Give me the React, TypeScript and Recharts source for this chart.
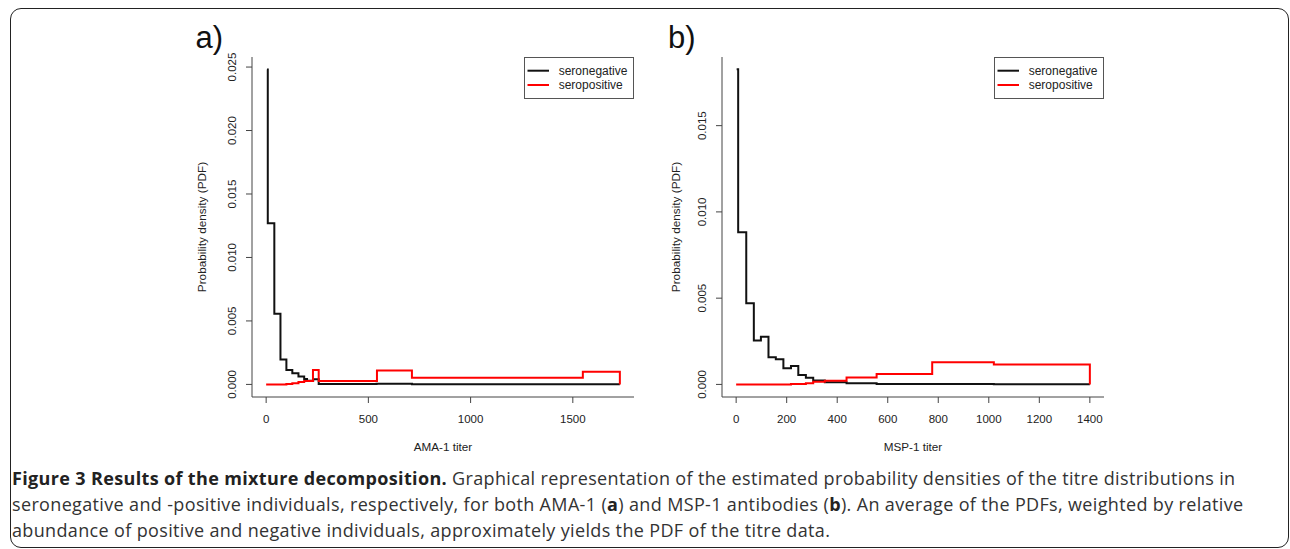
import React from 'react';
import { LineChart, Line, XAxis, YAxis, Legend } from 'recharts';

// ---------- Data ----------
// Panel a) AMA-1
const amaNegX = [4, 8, 40, 70, 99, 128, 158, 186, 200, 230, 257, 540, 713, 1549, 1730];
const amaNegY = [0.0248, 0.0127, 0.00557, 0.00197, 0.00113, 0.00087, 0.00062, 0.00042, 0.00028, 0.0004, 0.00003, 0.00005, 0.00001, 0.000005, 0.000005];
const amaPosX = [0, 99, 128, 158, 186, 229, 257, 542, 713, 1549, 1730];
const amaPosY = [0, 0.00003, 0.0001, 0.00018, 0.00026, 0.00113, 0.00026, 0.0011, 0.00052, 0.00099, 0];

// Panel b) MSP-1
const mspNegX = [2, 8, 40, 70, 98, 128, 157, 187, 217, 246, 276, 305, 351, 437, 556, 1020, 1400];
const mspNegY = [0.01827, 0.00882, 0.0047, 0.00255, 0.00276, 0.00158, 0.00146, 0.00093, 0.00107, 0.00054, 0.00039, 0.00022, 0.00012, 0.00006, 0.00002, 0.000005, 0.000005];
const mspPosX = [0, 217, 276, 305, 351, 437, 556, 776, 1020, 1400];
const mspPosY = [0, 0.00002, 0.00006, 0.00015, 0.00021, 0.0004, 0.0006, 0.00128, 0.00116, 0];

const amaXTicks = [0, 500, 1000, 1500];
const amaYTicks = [0, 0.005, 0.01, 0.015, 0.02, 0.025];
const mspXTicks = [0, 200, 400, 600, 800, 1000, 1200, 1400];
const mspYTicks = [0, 0.005, 0.01, 0.015];

const seriesNames = ['seronegative', 'seropositive'];
const axisTitles = { a: 'AMA-1 titer', b: 'MSP-1 titer', y: 'Probability density (PDF)' };

// ---------- Styles ----------
const FONT = '"Liberation Sans", Arial, Helvetica, sans-serif';
const AXIS_COLOR = '#444';
const TEXT_COLOR = '#222';
const NEG_COLOR = '#111111';
const POS_COLOR = '#ff0000';

const zip = (xs: number[], ys: number[]) => xs.map((x, i) => ({ x, y: ys[i] }));

// R-like 4% axis expansion
const expand = (lo: number, hi: number): [number, number] => {
  const d = (hi - lo) * 0.04;
  return [lo - d, hi + d];
};

const XTick = (props: any) => {
  const { x, y, payload } = props;
  return (
    <text x={x} y={y} dy="0.71em" textAnchor="middle" fontSize={11.5} fill={TEXT_COLOR} fontFamily={FONT}>
      {payload.value}
    </text>
  );
};

const YTick = (props: any) => {
  const { x, y, payload } = props;
  return (
    <text
      x={x}
      y={y}
      transform={`rotate(-90 ${x} ${y})`}
      textAnchor="middle"
      fontSize={11.5}
      fill={TEXT_COLOR}
      fontFamily={FONT}
    >
      {Number(payload.value).toFixed(3)}
    </text>
  );
};

const LegendBox = (props: any) => {
  const payload = props.payload || [];
  return (
    <svg width={110} height={42} style={{ display: 'block' }}>
      <rect x={0.5} y={0.5} width={109} height={41} fill="#fff" stroke="#555" strokeWidth={1} />
      {payload.map((p: any, i: number) => (
        <g key={i}>
          <line x1={3.5} x2={25} y1={13.7 + i * 14.3} y2={13.7 + i * 14.3} stroke={p.color} strokeWidth={2} />
          <text x={34.7} y={13.7 + i * 14.3} dy="0.36em" fontSize={12} fill={TEXT_COLOR} fontFamily={FONT}>
            {p.value}
          </text>
        </g>
      ))}
    </svg>
  );
};

type PanelProps = {
  left: number;
  negX: number[];
  negY: number[];
  posX: number[];
  posY: number[];
  xMax: number;
  yMax: number;
  xTicks: number[];
  yTicks: number[];
  xLabel: string;
  yLabelOffset: number;
};

const CW = 490;
const CH = 470;

function Panel({ left, negX, negY, posX, posY, xMax, yMax, xTicks, yTicks, xLabel, yLabelOffset }: PanelProps) {
  const xDomain = expand(0, xMax);
  const yDomain = expand(0, yMax);
  return (
    <div style={{ position: 'absolute', left, top: 0, width: CW, height: CH }}>
      <LineChart width={CW} height={CH} margin={{ top: 57, right: 16, bottom: 0, left: 0 }}>
        <XAxis
          xAxisId="b"
          dataKey="x"
          type="number"
          domain={xDomain}
          ticks={xTicks}
          interval={0}
          allowDataOverflow
          height={73}
          tickSize={6}
          tickMargin={12}
          stroke={AXIS_COLOR}
          tick={<XTick />}
          label={{
            value: xLabel,
            position: 'insideBottom',
            offset: 19.5,
            style: { fontFamily: FONT, fontSize: 11.7, fill: TEXT_COLOR, textAnchor: 'middle' },
          }}
        />
        <XAxis xAxisId="t" orientation="top" type="number" domain={xDomain} allowDataOverflow height={0} tick={false} tickLine={false} stroke={AXIS_COLOR} />
        <YAxis
          yAxisId="l"
          type="number"
          domain={yDomain}
          ticks={yTicks}
          interval={0}
          allowDataOverflow
          width={92}
          tickSize={6}
          tickMargin={10}
          stroke={AXIS_COLOR}
          tick={<YTick />}
          label={{
            value: axisTitles.y,
            angle: -90,
            position: 'insideLeft',
            offset: yLabelOffset,
            style: { fontFamily: FONT, fontSize: 11.8, fill: TEXT_COLOR, textAnchor: 'middle' },
          }}
        />
        <YAxis yAxisId="r" orientation="right" type="number" domain={yDomain} allowDataOverflow width={0} tick={false} tickLine={false} stroke={AXIS_COLOR} />
        <Line
          xAxisId="b"
          yAxisId="l"
          data={zip(negX, negY)}
          dataKey="y"
          name={seriesNames[0]}
          type="stepAfter"
          stroke={NEG_COLOR}
          strokeWidth={2}
          dot={false}
          activeDot={false}
          isAnimationActive={false}
        />
        <Line
          xAxisId="b"
          yAxisId="l"
          data={zip(posX, posY)}
          dataKey="y"
          name={seriesNames[1]}
          type="stepAfter"
          stroke={POS_COLOR}
          strokeWidth={2}
          dot={false}
          activeDot={false}
          isAnimationActive={false}
        />
        <Legend
          layout="vertical"
          align="center"
          verticalAlign="middle"
          content={<LegendBox />}
          wrapperStyle={{ left: CW - 16 - 110, top: 57.3, width: 110, height: 42, margin: 0, padding: 0 }}
        />
      </LineChart>
    </div>
  );
}

const captionBold = 'Figure 3 Results of the mixture decomposition.';
const captionLine1 = ' Graphical representation of the estimated probability densities of the titre distributions in';
const captionLine2a = 'seronegative and -positive individuals, respectively, for both AMA-1 (';
const captionLine2b = ') and MSP-1 antibodies (';
const captionLine2c = '). An average of the PDFs, weighted by relative';
const captionLine3 = 'abundance of positive and negative individuals, approximately yields the PDF of the titre data.';

export default function App() {
  return (
    <div style={{ position: 'fixed', left: 0, top: 0, width: 1290, height: 549, background: '#fff', overflow: 'hidden' }}>
      <div
        style={{
          position: 'absolute',
          left: 10,
          top: 7.5,
          width: 1279,
          height: 540,
          border: '1.5px solid #222',
          borderRadius: 11,
          boxSizing: 'border-box',
        }}
      />
      <Panel
        left={160}
        negX={amaNegX}
        negY={amaNegY}
        posX={amaPosX}
        posY={amaPosY}
        xMax={1730}
        yMax={0.0248}
        xTicks={amaXTicks}
        yTicks={amaYTicks}
        xLabel={axisTitles.a}
        yLabelOffset={42.3}
      />
      <Panel
        left={630}
        negX={mspNegX}
        negY={mspNegY}
        posX={mspPosX}
        posY={mspPosY}
        xMax={1400}
        yMax={0.01825}
        xTicks={mspXTicks}
        yTicks={mspYTicks}
        xLabel={axisTitles.b}
        yLabelOffset={46.3}
      />
      <svg width={1290} height={60} style={{ position: 'absolute', left: 0, top: 0, pointerEvents: 'none' }}>
        <text x={195.5} y={48} fontSize={31} fontFamily={FONT} fill="#111">a)</text>
        <text x={668} y={48} fontSize={31} fontFamily={FONT} fill="#111">b)</text>
      </svg>
      <div
        style={{
          position: 'absolute',
          left: 12,
          top: 465,
          width: 1270,
          fontFamily: '"Open Sans", "Noto Sans", sans-serif',
          fontSize: 18,
          lineHeight: '26px',
          letterSpacing: 0.35,
          color: '#333',
          whiteSpace: 'nowrap',
        }}
      >
        <div>
          <b style={{ color: '#222' }}>{captionBold}</b>
          {captionLine1}
        </div>
        <div>
          {captionLine2a}
          <b style={{ color: '#222' }}>a</b>
          {captionLine2b}
          <b style={{ color: '#222' }}>b</b>
          {captionLine2c}
        </div>
        <div>{captionLine3}</div>
      </div>
    </div>
  );
}
